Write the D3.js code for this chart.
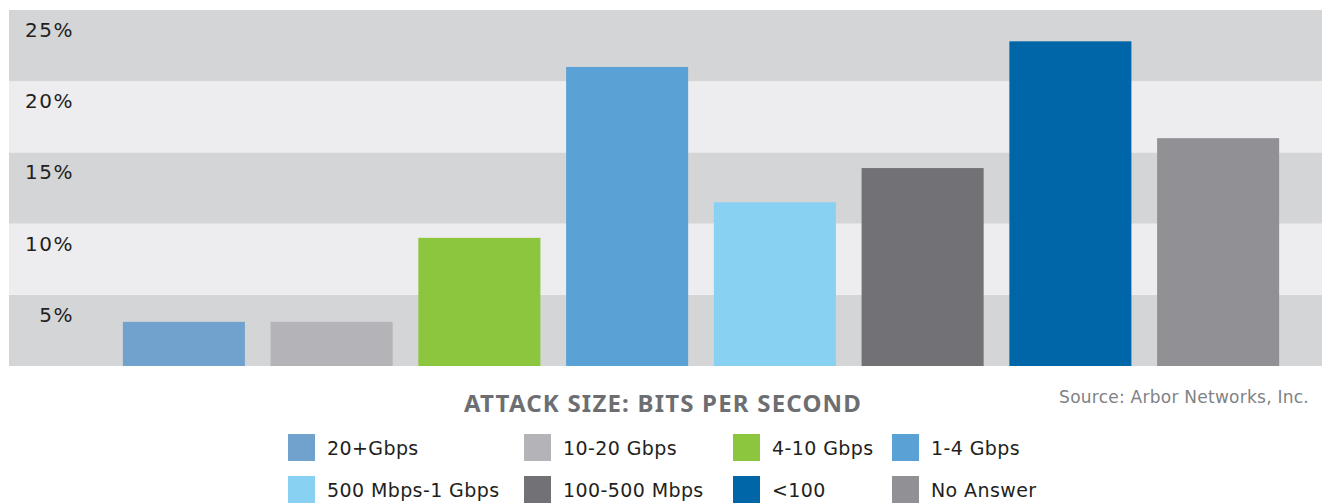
<!DOCTYPE html>
<html>
<head>
<meta charset="utf-8">
<script src="https://cdn.jsdelivr.net/npm/d3@7"></script>
<style>
	body { margin: 0; background: #fff; }
	text { font-family: "DejaVu Sans", "Noto Sans", sans-serif; }
	text.chart-title { font-family: "Noto Sans", sans-serif; }
</style>
</head>
<body>
<script>
// data
const categories = ["20+Gbps", "10-20 Gbps", "4-10 Gbps", "1-4 Gbps", "500 Mbps-1 Gbps", "100-500 Mbps", "<100", "No Answer"];
const shares = [3.1, 3.1, 9.0, 21.0, 11.5, 13.9, 22.8, 16.0];
const colors = ["#71a1cd", "#b4b4b8", "#8cc63f", "#5aa1d6", "#88d1f3", "#727175", "#0066a8", "#919095"];
const yTicks = [5, 10, 15, 20, 25];

const svgWidth = 1324;
const svgHeight = 504;

const svg = d3
	.select("body")
	.append("svg")
	.attr("width", svgWidth)
	.attr("height", svgHeight);

//scale
const yScale = d3.scaleLinear().domain([0, 25]).range([366, 10]);

const xScale = d3
	.scaleBand()
	.domain(categories)
	.range([110, 1292])
	.paddingInner(0.174)
	.paddingOuter(0.087);

//=====
//background bands
//=====
svg
	.selectAll(".band")
	.data(yTicks)
	.enter()
	.append("rect")
	.attr("class", "band")
	.attr("x", 9)
	.attr("width", 1313)
	.attr("y", (d) => yScale(d))
	.attr("height", (d) => yScale(d - 5) - yScale(d))
	.attr("fill", (d, i) => (i % 2 === 0 ? "#d4d5d7" : "#ededef"));

//y labels
svg
	.selectAll(".y-label")
	.data(yTicks)
	.enter()
	.append("text")
	.attr("class", "y-label")
	.attr("x", 74)
	.attr("y", (d) => yScale(d) + 27)
	.attr("text-anchor", "end")
	.attr("font-size", 20)
	.attr("letter-spacing", 1.5)
	.attr("fill", "#231f20")
	.text((d) => d + "%");

//=====
//bars
//=====
svg
	.selectAll(".bar")
	.data(categories)
	.enter()
	.append("rect")
	.attr("class", "bar")
	.attr("x", (d) => xScale(d))
	.attr("width", xScale.bandwidth())
	.attr("y", (d, i) => yScale(shares[i]))
	.attr("height", (d, i) => yScale(0) - yScale(shares[i]))
	.attr("fill", (d, i) => colors[i]);

//=====
//titles
//=====
svg
	.append("text")
	.attr("class", "chart-title")
	.attr("x", 663)
	.attr("y", 412)
	.attr("text-anchor", "middle")
	.attr("font-size", 24)
	.attr("font-weight", "bold")
	.attr("letter-spacing", 1.2)
	.attr("fill", "#6d6e71")
	.text("ATTACK SIZE: BITS PER SECOND");

svg
	.append("text")
	.attr("x", 1309)
	.attr("y", 403)
	.attr("text-anchor", "end")
	.attr("font-size", 17)
	.attr("letter-spacing", 0.25)
	.attr("fill", "#808285")
	.text("Source: Arbor Networks, Inc.");

//=====
//legend
//=====
const legendCols = [288, 524, 733, 892];
const legend = svg
	.selectAll(".legend")
	.data(categories)
	.enter()
	.append("g")
	.attr("class", "legend")
	.attr("transform", (d, i) => `translate(${legendCols[i % 4]}, ${434 + Math.floor(i / 4) * 42})`);

legend
	.append("rect")
	.attr("width", 27)
	.attr("height", 27)
	.attr("fill", (d, i) => colors[i]);

legend
	.append("text")
	.attr("x", 39)
	.attr("y", 21)
	.attr("font-size", 19)
	.attr("letter-spacing", 0.4)
	.attr("fill", "#231f20")
	.text((d) => d);
</script>
</body>
</html>
